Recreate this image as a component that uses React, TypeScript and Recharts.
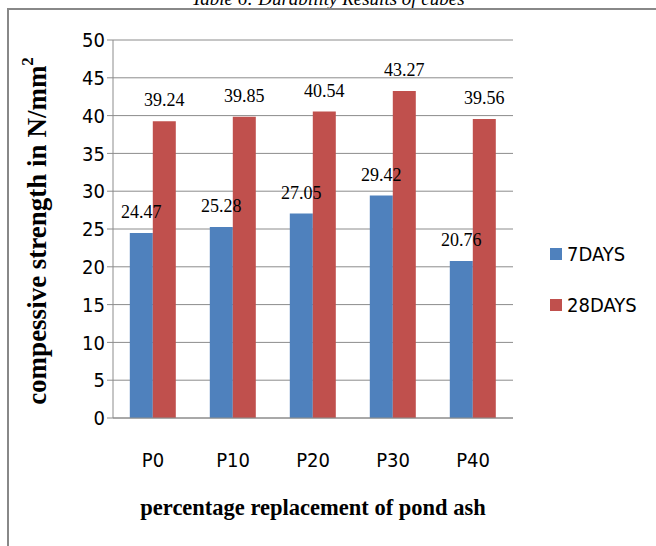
import { BarChart, Bar, XAxis, YAxis, CartesianGrid, LabelList } from "recharts";

const categories = ["P0", "P10", "P20", "P30", "P40"];
const days7 = [24.47, 25.28, 27.05, 29.42, 20.76];
const days28 = [39.24, 39.85, 40.54, 43.27, 39.56];
const yTicks = [0, 5, 10, 15, 20, 25, 30, 35, 40, 45, 50];

const data = categories.map((c, i) => ({ name: c, d7: days7[i], d28: days28[i] }));

const BLUE = "#4F81BD";
const RED = "#C0504D";
const narrow = "'Liberation Sans Narrow', 'DejaVu Sans Condensed', sans-serif";
const serif = "'Liberation Serif', 'Times New Roman', serif";

function YTitle(props: any) {
  const vb = props.viewBox || {};
  const cx = 37;
  const cy = vb.y + vb.height / 2 + 2;
  return (
    <text
      x={cx}
      y={cy}
      transform={`rotate(-90, ${cx}, ${cy})`}
      textAnchor="middle"
      dominantBaseline="central"
      fontFamily={serif}
      fontWeight="bold"
      fontSize={27}
      fill="#000"
    >
      compessive strength in N/mm
      <tspan dy={-10} fontSize={17}>2</tspan>
    </text>
  );
}

export default function App() {
  return (
    <div style={{ position: "absolute", left: 0, top: 0, width: 656, height: 546, background: "#fff", overflow: "hidden" }}>
      <div
        style={{
          position: "absolute",
          left: 0,
          right: 0,
          top: -12,
          textAlign: "center",
          fontFamily: serif,
          fontStyle: "italic",
          fontSize: 19,
          color: "#000",
        }}
      >
        Table 6: Durability Results of cubes
      </div>
      <div
        style={{
          position: "absolute",
          left: 7,
          top: 8,
          width: 660,
          height: 560,
          borderLeft: "2px solid #888",
          borderTop: "2px solid #888",
        }}
      />
      <div style={{ position: "absolute", left: 0, top: 0 }}>
        <BarChart
          width={656}
          height={546}
          data={data}
          margin={{ top: 40, right: 143, bottom: 68, left: 53 }}
          barCategoryGap="21%"
          barGap={0}
        >
          <CartesianGrid vertical={false} stroke="#8c8c8c" />
          <XAxis
            dataKey="name"
            height={60}
            tickLine={false}
            axisLine={{ stroke: "#8c8c8c" }}
            tick={{ fill: "#000", fontFamily: narrow, fontSize: 20, dy: 27 }}
            label={{
              value: "percentage replacement of pond ash",
              position: "insideBottom",
              offset: -37,
              fill: "#000",
              fontFamily: serif,
              fontWeight: "bold",
              fontSize: 22.5,
            }}
          />
          <YAxis
            width={60}
            domain={[0, 50]}
            ticks={yTicks}
            interval={0}
            tickSize={6}
            tickLine={{ stroke: "#8c8c8c" }}
            axisLine={{ stroke: "#8c8c8c" }}
            tick={{ fill: "#000", fontFamily: narrow, fontSize: 20 }}
            label={<YTitle />}
          />
          <Bar dataKey="d7" fill={BLUE} isAnimationActive={false}>
            <LabelList
              dataKey="d7"
              position="top"
              offset={15}
              fill="#000"
              fontFamily={serif}
              fontSize={18}
            />
          </Bar>
          <Bar dataKey="d28" fill={RED} isAnimationActive={false}>
            <LabelList
              dataKey="d28"
              position="top"
              offset={15}
              fill="#000"
              fontFamily={serif}
              fontSize={18}
            />
          </Bar>
        </BarChart>
      </div>
      <div style={{ position: "absolute", left: 550, top: 242, fontFamily: narrow, fontSize: 20, color: "#000" }}>
        <div style={{ display: "flex", alignItems: "center", height: 24 }}>
          <span style={{ width: 12, height: 12, background: BLUE, display: "inline-block", marginRight: 5 }} />
          7DAYS
        </div>
        <div style={{ display: "flex", alignItems: "center", height: 24, marginTop: 27 }}>
          <span style={{ width: 12, height: 12, background: RED, display: "inline-block", marginRight: 5 }} />
          28DAYS
        </div>
      </div>
    </div>
  );
}
